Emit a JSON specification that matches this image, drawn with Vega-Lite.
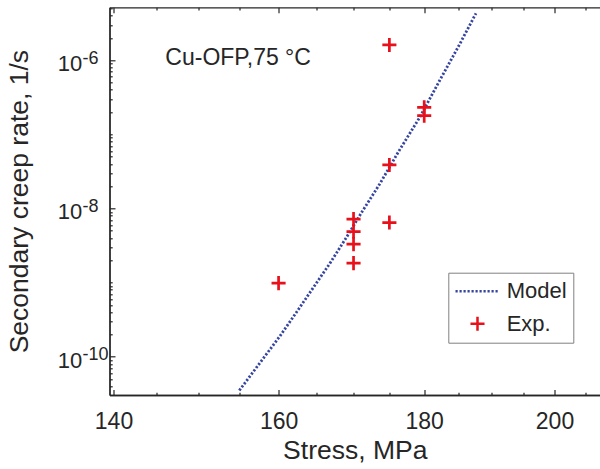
{
  "$schema": "https://vega.github.io/schema/vega-lite/v6.json",
  "autosize": "none",
  "width": 490.5,
  "height": 387.7,
  "padding": {"left": 109.5, "top": 7.3, "right": 0, "bottom": 74},
  "background": "white",
  "datasets": {
    "model": [
      {"stress": 155.0, "rate": 3.50e-11, "series": "Model"},
      {"stress": 158.0, "rate": 9.38e-11, "series": "Model"},
      {"stress": 160.2, "rate": 1.91e-10, "series": "Model"},
      {"stress": 162.4, "rate": 4.07e-10, "series": "Model"},
      {"stress": 165.1, "rate": 1.03e-9, "series": "Model"},
      {"stress": 166.8, "rate": 1.83e-9, "series": "Model"},
      {"stress": 169.1, "rate": 4.18e-9, "series": "Model"},
      {"stress": 171.1, "rate": 8.81e-9, "series": "Model"},
      {"stress": 173.7, "rate": 2.19e-8, "series": "Model"},
      {"stress": 176.3, "rate": 5.85e-8, "series": "Model"},
      {"stress": 179.4, "rate": 1.73e-7, "series": "Model"},
      {"stress": 182.3, "rate": 5.42e-7, "series": "Model"},
      {"stress": 185.3, "rate": 1.69e-6, "series": "Model"},
      {"stress": 187.7, "rate": 4.31e-6, "series": "Model"}
    ],
    "exp": [
      {"stress": 160, "rate": 9.84e-10, "series": "Exp."},
      {"stress": 170, "rate": 7.18e-9, "series": "Exp."},
      {"stress": 170, "rate": 4.88e-9, "series": "Exp."},
      {"stress": 170, "rate": 3.30e-9, "series": "Exp."},
      {"stress": 170, "rate": 1.83e-9, "series": "Exp."},
      {"stress": 175, "rate": 1.61e-6, "series": "Exp."},
      {"stress": 175, "rate": 3.87e-8, "series": "Exp."},
      {"stress": 175, "rate": 6.46e-9, "series": "Exp."},
      {"stress": 180, "rate": 2.32e-7, "series": "Exp."},
      {"stress": 180, "rate": 1.79e-7, "series": "Exp."}
    ],
    "note": [
      {"stress": 146.0, "rate": 8.6e-7, "label": "Cu-OFP,75 °C"}
    ]
  },
  "layer": [
    {
      "data": {"name": "model"},
      "mark": {"type": "line", "strokeWidth": 2.8, "clip": true},
      "encoding": {
        "x": {"field": "stress", "type": "quantitative",
          "scale": {"type": "log", "domain": [139.55, 207.5], "nice": false},
          "axis": {"orient": "bottom", "values": [140, 160, 180, 200], "format": "d", "ticks": false,
            "labelFontSize": 23, "labelPadding": 15.5, "labelFlush": false, "title": "Stress, MPa",
            "titleFontSize": 26.5, "titlePadding": 4,
            "grid": true, "gridDash": [5.5, 376.7, 5.5, 2000]}},
        "y": {"field": "rate", "type": "quantitative",
          "scale": {"type": "log", "domain": [3.04e-11, 5.19e-6], "nice": false},
          "axis": {"orient": "left", "values": [1e-10, 1e-8, 1e-6], "ticks": false,
            "labelExpr": "'10'", "labelAlign": "right", "labelBaseline": "alphabetic", "labelOffset": 10.4,
            "labelFontSize": 22, "labelPadding": 27.8, "labelFlush": false,
            "title": "Secondary creep rate, 1/s", "titleFontSize": 26.5, "titlePadding": 24,
            "grid": true, "gridDash": [5.5, 2000]}},
        "color": {"field": "series", "type": "nominal",
          "scale": {"domain": ["Model", "Exp."], "range": ["#3646a0", "#e8101a"]},
          "legend": {"title": null, "orient": "none", "legendX": 338.8, "legendY": 265.4}},
        "strokeDash": {"field": "series", "type": "nominal",
          "scale": {"domain": ["Model", "Exp."], "range": [[2.2, 1.8], [1, 0]]},
          "legend": {"title": null, "orient": "none", "legendX": 338.8, "legendY": 265.4}}
      }
    },
    {
      "data": {"name": "exp"},
      "mark": {"type": "point", "filled": false, "strokeWidth": 2.7, "size": 484, "opacity": 1},
      "encoding": {
        "x": {"field": "stress", "type": "quantitative",
          "scale": {"type": "log", "domain": [139.55, 207.5], "nice": false},
          "axis": {"orient": "bottom", "values": [145, 150, 155, 165, 170, 175, 185, 190, 195, 205],
            "ticks": false, "labels": false, "domain": true, "title": null,
            "grid": true, "gridDash": [2.7, 382.3, 2.7, 2000]}},
        "y": {"field": "rate", "type": "quantitative",
          "scale": {"type": "log", "domain": [3.04e-11, 5.19e-6], "nice": false},
          "axis": {"orient": "left",
            "values": [4e-11, 5e-11, 6e-11, 7e-11, 8e-11, 9e-11,
                       2e-10, 3e-10, 4e-10, 5e-10, 6e-10, 7e-10, 8e-10, 9e-10,
                       1e-9, 2e-9, 3e-9, 4e-9, 5e-9, 6e-9, 7e-9, 8e-9, 9e-9,
                       2e-8, 3e-8, 4e-8, 5e-8, 6e-8, 7e-8, 8e-8, 9e-8,
                       1e-7, 2e-7, 3e-7, 4e-7, 5e-7, 6e-7, 7e-7, 8e-7, 9e-7,
                       2e-6, 3e-6, 4e-6, 5e-6],
            "ticks": false, "labels": false, "domain": true, "title": null,
            "grid": true, "gridDash": [2.7, 2000]}},
        "color": {"field": "series", "type": "nominal",
          "scale": {"domain": ["Model", "Exp."], "range": ["#3646a0", "#e8101a"]},
          "legend": {"title": null, "orient": "none", "legendX": 338.8, "legendY": 265.4}},
        "shape": {"field": "series", "type": "nominal",
          "scale": {"domain": ["Model", "Exp."], "range": ["M-2,0H2", "M-0.64,0H0.64M0,-0.64V0.64"]},
          "legend": {"title": null, "orient": "none", "legendX": 338.8, "legendY": 265.4}}
      }
    },
    {
      "data": {"name": "note"},
      "mark": {"type": "text", "align": "left", "baseline": "alphabetic", "fontSize": 23,
        "font": "Liberation Sans", "color": "#262626"},
      "encoding": {
        "x": {"field": "stress", "type": "quantitative",
          "scale": {"type": "log", "domain": [139.55, 207.5], "nice": false},
          "axis": {"orient": "top", "values": [140, 160, 180, 200], "ticks": false,
            "labels": false, "domain": true, "title": null, "grid": false}},
        "y": {"field": "rate", "type": "quantitative",
          "scale": {"type": "log", "domain": [3.04e-11, 5.19e-6], "nice": false},
          "axis": {"orient": "left", "values": [1e-10, 1e-8, 1e-6], "ticks": false, "domain": false,
            "labelExpr": "datum.value < 1e-9 ? '-10' : (datum.value < 1e-7 ? '-8' : '-6')",
            "labelAlign": "left", "labelBaseline": "alphabetic", "labelOffset": 3,
            "labelFontSize": 18, "labelPadding": 27.5, "labelFlush": false, "title": null, "grid": false}},
        "text": {"field": "label"}
      }
    }
  ],
  "resolve": {"axis": {"x": "independent", "y": "independent"}},
  "config": {
    "view": {"stroke": null},
    "font": "Liberation Sans",
    "axis": {
      "labelFont": "Liberation Sans", "titleFont": "Liberation Sans",
      "labelColor": "#262626", "titleColor": "#262626",
      "domainColor": "#262626", "domainWidth": 1.3,
      "gridColor": "#262626", "gridWidth": 1.2, "gridOpacity": 1,
      "titleFontWeight": "normal"
    },
    "legend": {
      "labelFont": "Liberation Sans", "labelFontSize": 22, "labelColor": "#262626",
      "strokeColor": "#808080", "fillColor": "white", "padding": 6, "rowPadding": 8.5,
      "labelOffset": 16.7, "symbolOffset": 10.7, "symbolSize": 484, "symbolStrokeWidth": 2.5
    }
  }
}
